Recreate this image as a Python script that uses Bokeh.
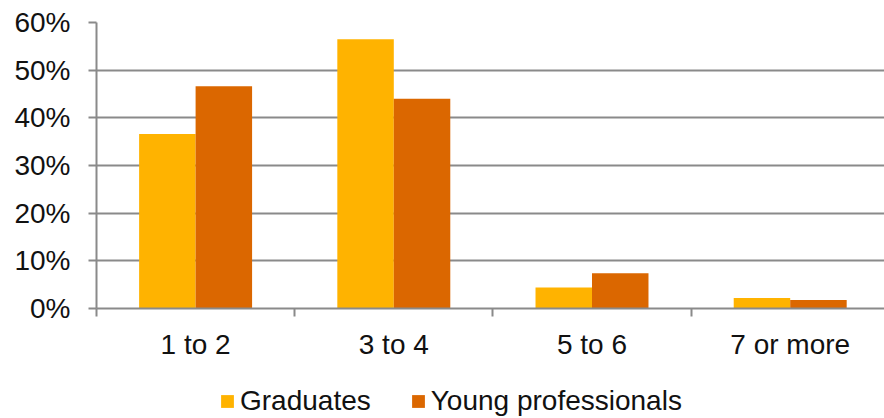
import numpy as np
from bokeh.plotting import figure
from bokeh.layouts import column
from bokeh.models import (ColumnDataSource, Range1d, FixedTicker, NumeralTickFormatter,
                          Legend, LegendItem)
from bokeh.embed import file_html
from bokeh.resources import INLINE

# Share of respondents by number of items, per group
categories = ["1 to 2", "3 to 4", "5 to 6", "7 or more"]
graduates = [0.366, 0.565, 0.044, 0.022]
young_professionals = [0.466, 0.440, 0.074, 0.018]
y_ticks = [0.0, 0.1, 0.2, 0.3, 0.4, 0.5, 0.6]
series_names = ["Graduates", "Young professionals"]

GRAD_COLOR = "#FFB300"
YP_COLOR = "#DB6700"
GRID = "#8a8a8a"
FONT = "Liberation Sans"

centers = np.arange(len(categories)) + 0.5
bar_w = 0.285
offset = bar_w / 2

src = ColumnDataSource(dict(
    x_grad=centers - offset,
    x_yp=centers + offset,
    grad=graduates,
    yp=young_professionals,
))

W = 884
CHART_H, LEGEND_H = 380, 38
left, top, bottom = 96, 22, 72
cat_px = 198.2
x_end = (W - left) / cat_px

p = figure(width=W, height=CHART_H, output_backend="svg", toolbar_location=None,
           x_range=Range1d(0, x_end), y_range=Range1d(0, 0.6),
           min_border_left=left, min_border_right=0,
           min_border_top=top, min_border_bottom=bottom)
p.outline_line_color = None
p.background_fill_color = "white"
p.border_fill_color = "white"

p.vbar(x="x_grad", top="grad", width=bar_w, source=src,
       fill_color=GRAD_COLOR, line_color=None)
p.vbar(x="x_yp", top="yp", width=bar_w, source=src,
       fill_color=YP_COLOR, line_color=None)

# grid
p.xgrid.visible = False
p.ygrid.ticker = FixedTicker(ticks=y_ticks)
p.ygrid.grid_line_color = GRID
p.ygrid.grid_line_width = 2

# y axis
ya = p.yaxis[0]
ya.ticker = FixedTicker(ticks=y_ticks)
ya.formatter = NumeralTickFormatter(format="0%")
ya.axis_line_color = GRID
ya.axis_line_width = 2
ya.major_tick_line_color = GRID
ya.major_tick_line_width = 2
ya.major_tick_out = 8
ya.major_tick_in = 0
ya.minor_tick_line_color = None
ya.major_label_text_font = FONT
ya.major_label_text_font_size = "28px"
ya.major_label_text_color = "#111111"
ya.major_label_standoff = 18

# x axis: labels at category centres, ticks at category boundaries
xa = p.xaxis[0]
xa.ticker = FixedTicker(ticks=list(centers),
                        minor_ticks=list(np.arange(len(categories) + 1)))
xa.major_label_overrides = {float(c): lab for c, lab in zip(centers, categories)}
xa.axis_line_color = GRID
xa.axis_line_width = 2
xa.major_tick_line_color = None
xa.major_tick_out = 0
xa.major_tick_in = 0
xa.minor_tick_line_color = GRID
xa.minor_tick_line_width = 2
xa.minor_tick_out = 8
xa.minor_tick_in = 0
xa.major_label_text_font = FONT
xa.major_label_text_font_size = "28px"
xa.major_label_text_color = "#111111"
xa.major_label_standoff = 12

# legend strip below the chart (its frame lines up with the chart's frame)
lg = figure(width=W, height=LEGEND_H, output_backend="svg", toolbar_location=None,
            x_range=Range1d(0, 1), y_range=Range1d(0, 1),
            x_axis_type=None, y_axis_type=None,
            min_border_left=0, min_border_right=0,
            min_border_top=0, min_border_bottom=0)
lg.outline_line_color = None
lg.xgrid.visible = False
lg.ygrid.visible = False
# zero-height bars: they only supply the swatch styling for the legend
swatch_g = lg.vbar(x=[0.5], top=[0], width=0.1, fill_color=GRAD_COLOR, line_color=None)
swatch_y = lg.vbar(x=[0.5], top=[0], width=0.1, fill_color=YP_COLOR, line_color=None)

legend = Legend(items=[LegendItem(label=series_names[0], renderers=[swatch_g]),
                       LegendItem(label=series_names[1], renderers=[swatch_y])],
                orientation="horizontal", location=(123, 1))
legend.label_text_font = FONT
legend.label_text_font_size = "28px"
legend.label_text_color = "#111111"
legend.glyph_width = 16
legend.glyph_height = 16
legend.label_standoff = 5
legend.spacing = 39
legend.padding = 0
legend.margin = 0
legend.border_line_color = None
legend.background_fill_alpha = 0
lg.add_layout(legend, "center")

page = column(p, lg, spacing=0)
open("out.html", "w").write(file_html(page, INLINE))
